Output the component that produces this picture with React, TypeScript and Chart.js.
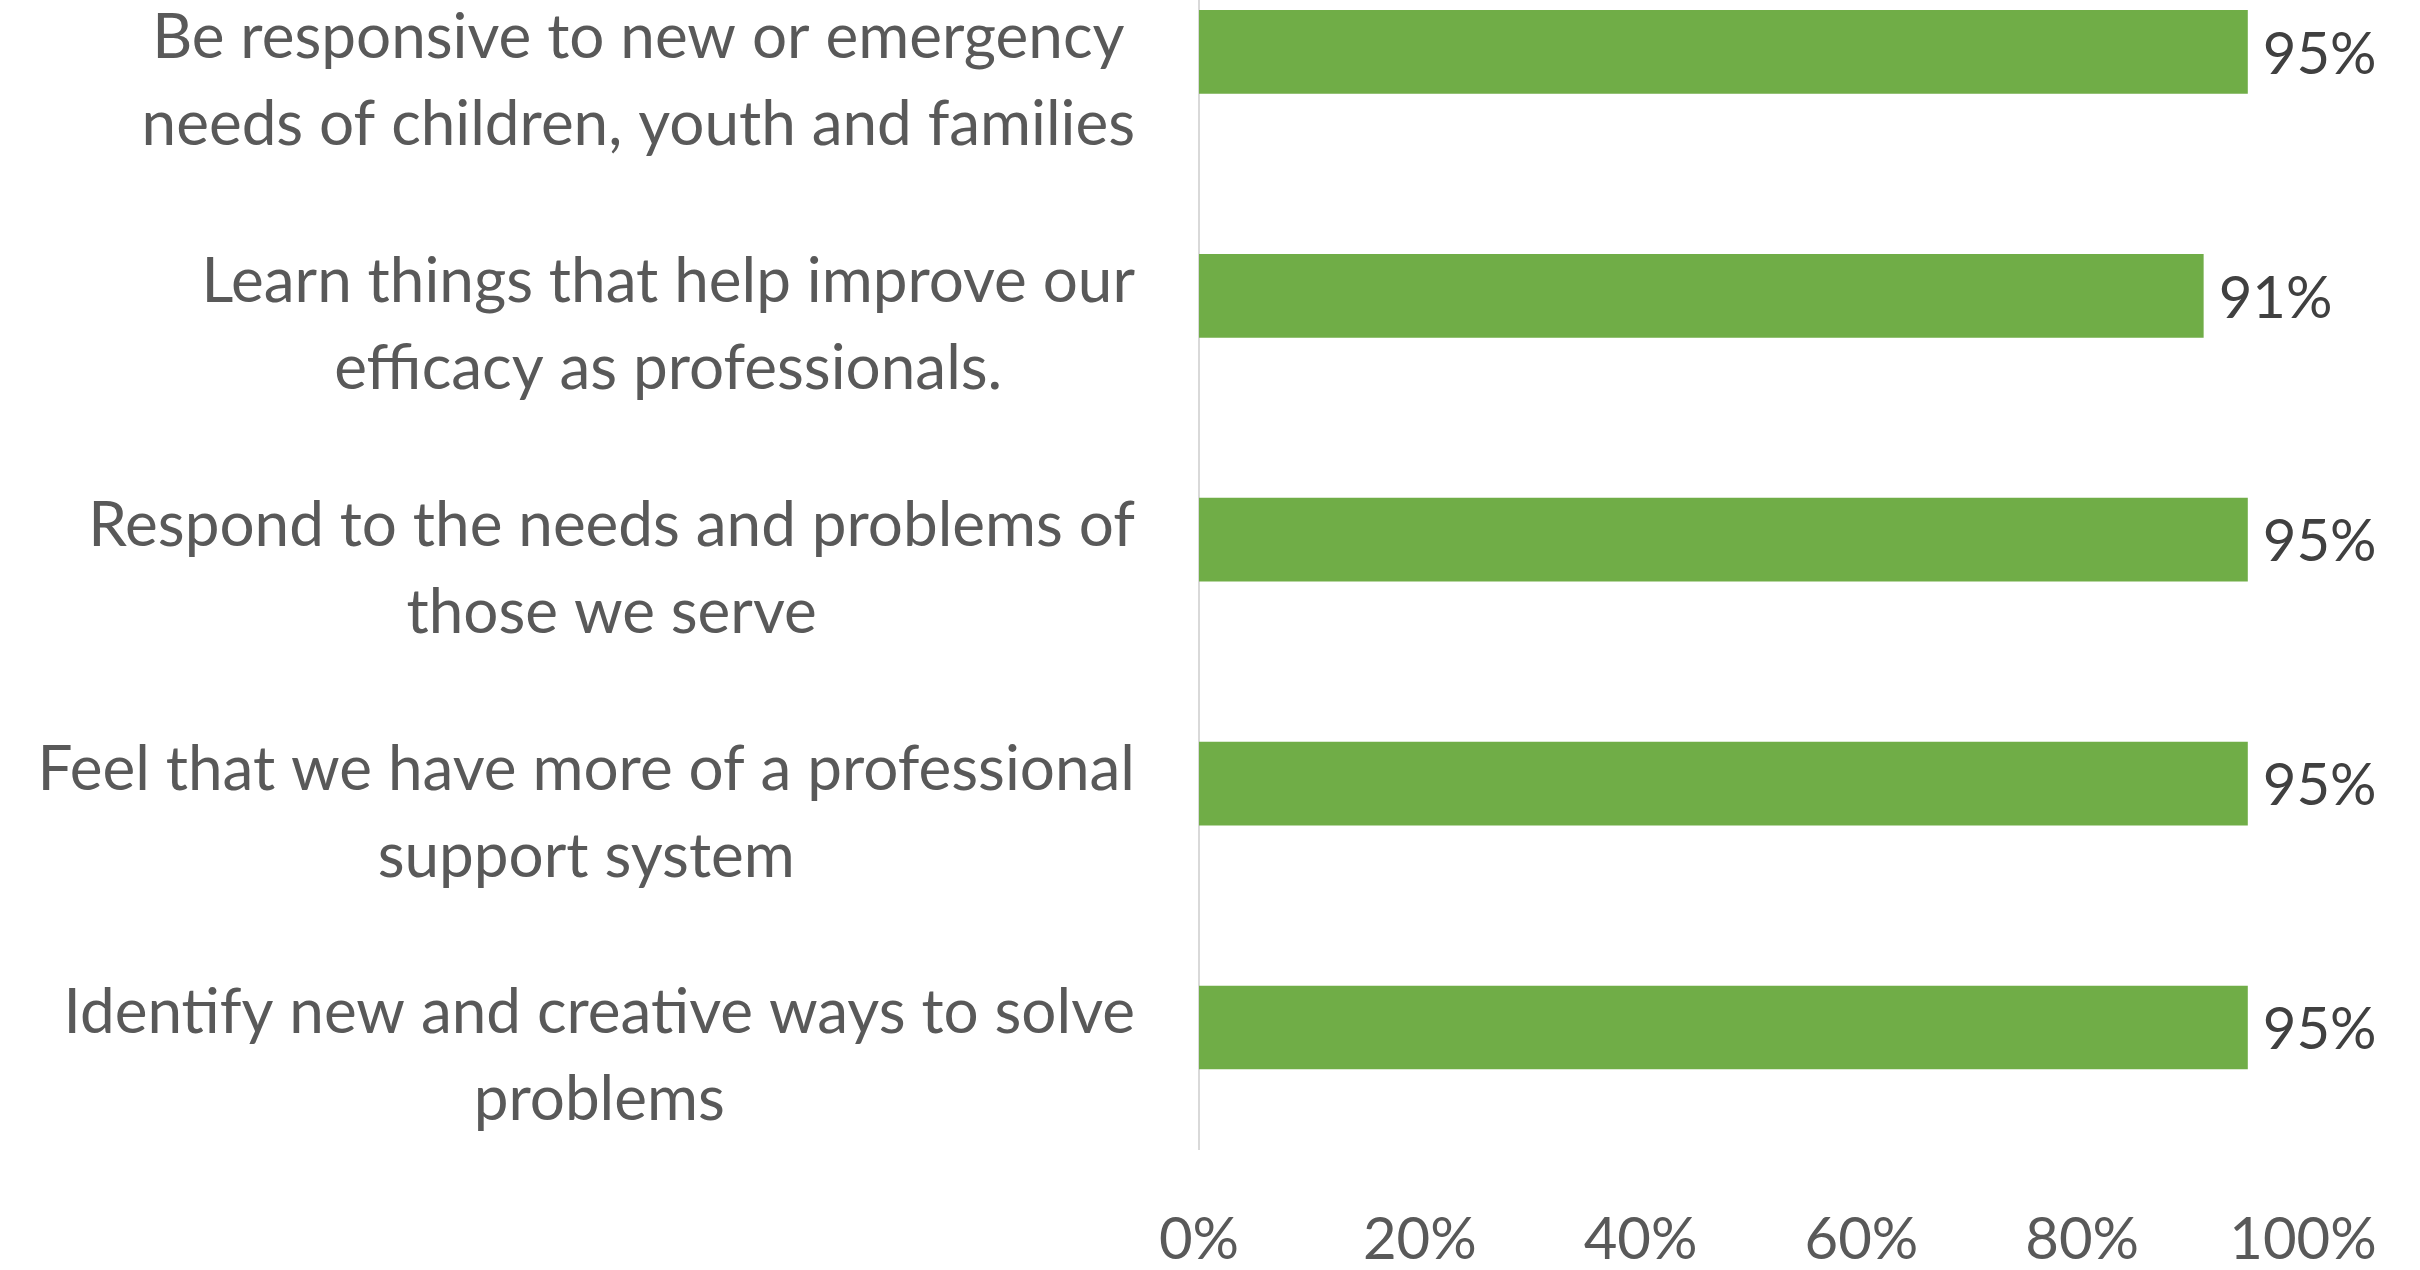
import React, { useEffect, useRef } from "react";
import { Chart, registerables } from "chart.js";

Chart.register(...registerables);

// ---- data ----
const categories: string[][] = [
  ["Be responsive to new or emergency", "needs of children, youth and families"],
  ["Learn things that help improve our", "efficacy as professionals."],
  ["Respond to the needs and problems of", "those we serve"],
  ["Feel that we have more of a professional", "support system"],
  ["Identify new and creative ways to solve", "problems"],
];
const values: number[] = [95, 91, 95, 95, 95];
const valueLabels: string[] = ["95%", "91%", "95%", "95%", "95%"];
const xTickValues: number[] = [0, 20, 40, 60, 80, 100];

// ---- style ----
const FONT = "Lato";
const LABEL_SIZE = 62;
const VALUE_SIZE = 58;
const TICK_SIZE = 58;
const LABEL_COLOR = "#595959";
const VALUE_COLOR = "#404040";
const BAR_COLOR = "#70AD47";
const LABEL_GAP = 64;
const LINE_OFFSETS = [-14, 73];
const CANVAS_W = 2420;
const CANVAS_H = 1401;
const CANVAS_TOP = -70;

const categoryLabelPlugin = {
  id: "categoryLabels",
  afterDraw(chart: any) {
    const ctx = chart.ctx;
    const yScale = chart.scales.y;
    const area = chart.chartArea;
    ctx.save();
    ctx.font = `${LABEL_SIZE}px ${FONT}`;
    ctx.fillStyle = LABEL_COLOR;
    ctx.textAlign = "center";
    ctx.textBaseline = "middle";
    categories.forEach((lines, i) => {
      const cy = yScale.getPixelForValue(i);
      const w = Math.max(...lines.map((l) => ctx.measureText(l).width));
      const cx = area.left - LABEL_GAP - w / 2;
      lines.forEach((l, j) => ctx.fillText(l, cx, cy + LINE_OFFSETS[j]));
    });
    ctx.restore();
  },
};

const valueLabelPlugin = {
  id: "valueLabels",
  afterDatasetsDraw(chart: any) {
    const ctx = chart.ctx;
    const meta = chart.getDatasetMeta(0);
    ctx.save();
    ctx.font = `${VALUE_SIZE}px ${FONT}`;
    ctx.fillStyle = VALUE_COLOR;
    ctx.textAlign = "left";
    ctx.textBaseline = "middle";
    meta.data.forEach((bar: any, i: number) => {
      ctx.fillText(valueLabels[i], bar.x + 15, bar.y + 3);
    });
    ctx.restore();
  },
};

export default function App() {
  const ref = useRef<HTMLCanvasElement | null>(null);

  useEffect(() => {
    if (!ref.current) return;
    const chart = new Chart(ref.current, {
      type: "bar",
      data: {
        labels: categories.map((c) => c.join(" ")),
        datasets: [
          {
            data: values,
            backgroundColor: BAR_COLOR,
            borderWidth: 0,
            barPercentage: 0.343,
            categoryPercentage: 1,
          },
        ],
      },
      options: {
        indexAxis: "y",
        animation: false,
        responsive: false,
        devicePixelRatio: 1,
        layout: { padding: { left: 0, right: 117, top: 0, bottom: 0 } },
        plugins: {
          legend: { display: false },
          tooltip: { enabled: false },
          title: { display: false },
        },
        scales: {
          x: {
            min: 0,
            max: 100,
            afterBuildTicks: (scale: any) => {
              scale.ticks = xTickValues.map((v) => ({ value: v }));
            },
            afterFit: (scale: any) => {
              scale.paddingLeft = 0;
              scale.paddingRight = 0;
            },
            grid: { display: false, drawTicks: false },
            border: { display: false },
            ticks: {
              padding: 56,
              color: LABEL_COLOR,
              font: { family: FONT, size: TICK_SIZE },
              callback: (v: any) => `${v}%`,
              maxRotation: 0,
            },
          },
          y: {
            grid: { display: false, drawTicks: false },
            border: { display: true, color: "#D9D9D9", width: 2 },
            ticks: { display: false },
            afterFit: (scale: any) => {
              scale.width = 1199;
            },
          },
        },
      },
      plugins: [categoryLabelPlugin, valueLabelPlugin],
    } as any);
    return () => chart.destroy();
  }, []);

  return (
    <div
      style={{
        position: "fixed",
        left: 0,
        top: 0,
        width: CANVAS_W,
        height: 1270,
        overflow: "hidden",
        background: "#ffffff",
      }}
    >
      <canvas
        ref={ref}
        width={CANVAS_W}
        height={CANVAS_H}
        style={{ position: "absolute", left: 0, top: CANVAS_TOP, width: CANVAS_W, height: CANVAS_H }}
      />
    </div>
  );
}
